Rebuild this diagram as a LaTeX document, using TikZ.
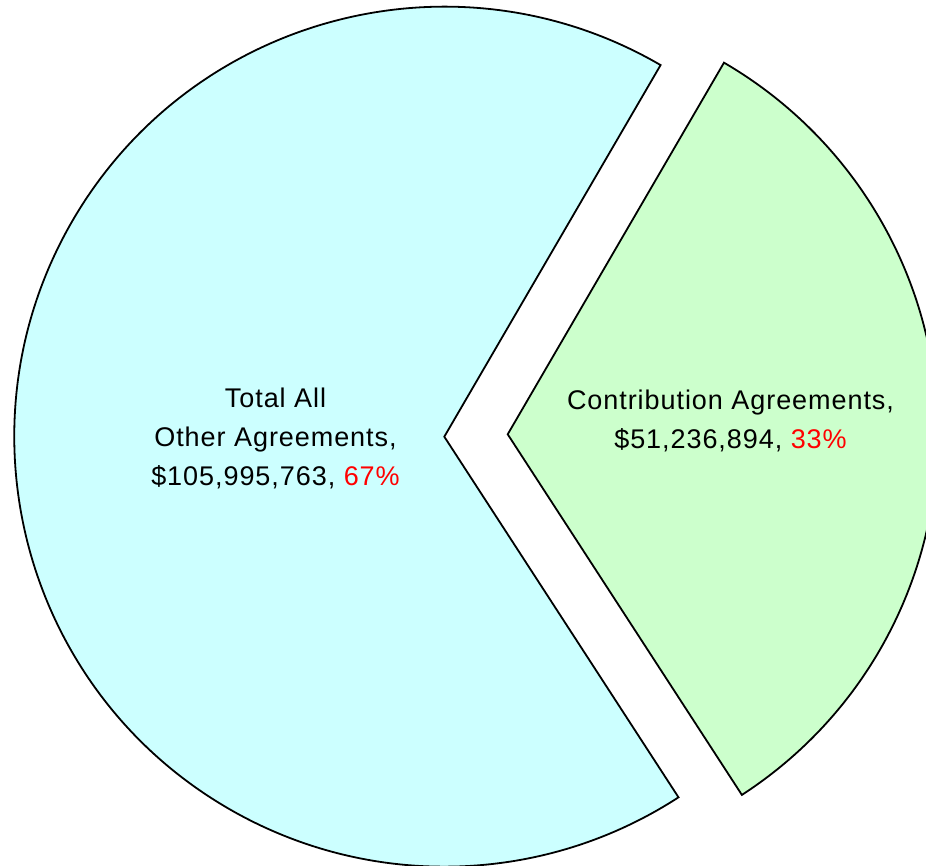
\documentclass[tikz,border=0pt]{standalone}
\usepackage{fontspec}
\setmainfont{Liberation Sans}[LetterSpace=3.5]
\definecolor{cyanfill}{HTML}{CCFFFF}
\definecolor{greenfill}{HTML}{CCFFCC}
\definecolor{pctred}{HTML}{FF0000}
\begin{document}
\begin{tikzpicture}[x=1pt,y=1pt,
  slice/.style={draw=black, line width=1.8pt, line join=miter},
  lbl/.style={font=\fontsize{27}{39}\selectfont, align=center, text=black, inner sep=0pt}]
\useasboundingbox (0,0) rectangle (926,866);
\clip (0,0) rectangle (926,866);
\coordinate (c1) at (444.3,429.3);
\coordinate (c2) at (507.7,431.7);
\path[slice, fill=cyanfill] (c1) -- ++(59.8:430) arc[start angle=59.8, end angle=303, radius=430] -- cycle;
\path[slice, fill=greenfill] (c2) -- ++(-57:430) arc[start angle=-57, end angle=59.8, radius=430] -- cycle;
\node[lbl] (other) at (275.5,427.1) {Total All\\Other Agreements,\\\$105,995,763, \textcolor{pctred}{67\%}};
\node[lbl] (contrib) at (730.5,445.1) {Contribution Agreements,\\\$51,236,894, \textcolor{pctred}{33\%}};
\end{tikzpicture}
\end{document}
